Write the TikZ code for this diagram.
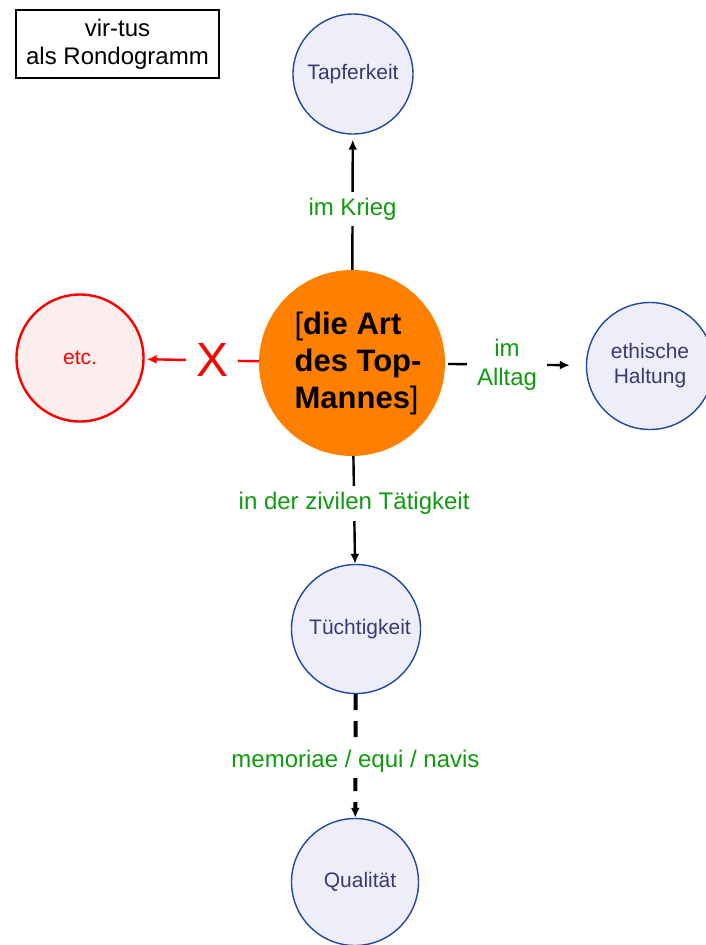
\documentclass[tikz,border=0pt]{standalone}
\usepackage{fontspec}
\setmainfont{Liberation Sans}
\usetikzlibrary{arrows.meta,positioning}
\tikzset{>=Latex}
\definecolor{k-fill}{HTML}{EEEEFB}
\definecolor{k-line}{HTML}{2048A0}
\definecolor{k-text}{HTML}{3A3A70}
\definecolor{l-green}{HTML}{109A10}
\definecolor{m-orange}{HTML}{FF8000}
\definecolor{x-fill}{HTML}{FDEEEE}

\begin{document}
\begin{tikzpicture}[x=1pt, y=-1pt,
                >={Latex[length=10pt,width=9pt]},
                every node/.append style={align=center},
                kreis/.style={circle, draw=k-line, line width=1.4pt, fill=k-fill, text=k-text,
                              minimum size=127pt, inner sep=0pt, font=\fontsize{21}{25}\selectfont},
                lbl/.style={fill=white, text=l-green, inner xsep=10pt, inner ysep=6pt,
                             font=\fontsize{24}{29}\selectfont},
                verb/.style={line width=2.4pt}]
   \useasboundingbox (0,0) rectangle (705,945);

   \node [draw, line width=1.2pt, minimum width=203pt, minimum height=68pt,
          font=\fontsize{24}{28}\selectfont] (titel) at (117.5,44) {vir-tus\\als Rondogramm};

   \node [circle, fill=m-orange, minimum size=186pt] (mitte) at (352,363) {};
   \node [align=left, font=\fontsize{31}{37}\selectfont] (mtext) at ([xshift=6]mitte.center)
         {[\textbf{die Art}\\\textbf{des Top-}\\\textbf{Mannes}]};

   \node [kreis, minimum size=120pt] (tapfer) at (353,74)  {Tapferkeit};
   \node [kreis] (ethik)  at (650,366) {ethische\\Haltung};
   \node [kreis, draw=red, fill=x-fill, text=red, line width=2.4pt] (etc) at (80,358) {etc.};
   \node [kreis, minimum size=129pt] (tuecht) at (356,629) {\hspace*{8pt}Tüchtigkeit};
   \node [kreis] (qual)   at (355,882) {\hspace*{10pt}Qualität};

   \path[->, verb] (mitte) edge[shorten >=5pt] node[lbl, pos=0.45] {im Krieg} (tapfer)
                   (mitte) edge[shorten >=16pt, shorten <=3pt] node[lbl, pos=0.44] {im\\Alltag} (ethik)
                   (mitte) edge node[lbl, pos=0.44] {in der zivilen Tätigkeit} (tuecht);
   \path[->, verb, red] (mitte) edge[shorten >=2pt]
                   node[lbl, text=red, font=\fontsize{48}{48}\selectfont, pos=0.41] {X} (etc);
   \path[->, line width=4pt, dash pattern=on 16pt off 11pt]
                   (tuecht) edge node[lbl, pos=0.54] {memoriae / equi / navis} (qual);
\end{tikzpicture}
\end{document}
